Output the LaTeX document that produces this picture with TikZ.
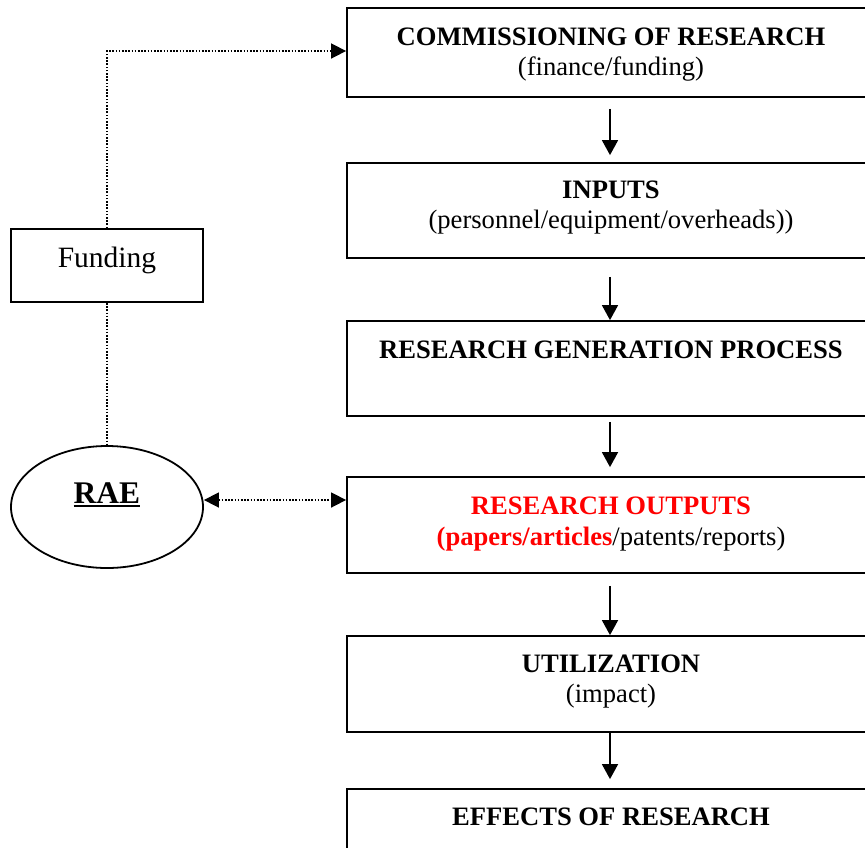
\documentclass[tikz,border=0pt]{standalone}
\usepackage{fontspec}
\setmainfont{Liberation Serif}
\usetikzlibrary{shapes.geometric,arrows.meta}
\newcommand\thickul[1]{\vtop{\hbox{#1}\kern1.5pt\hrule height 2.7pt}}
\begin{document}
\begin{tikzpicture}[x=1pt,y=-1pt,
  flowbox/.style={draw,line width=1.8pt,minimum width=526pt,inner sep=0pt},
  txt/.style={anchor=base,inner sep=0pt,font=\fontsize{26.6}{30}\selectfont},
  arr/.style={line width=1.6pt,-{Triangle[length=15pt,width=16pt]}},
  dotline/.style={line width=1.6pt,dash pattern=on 1.6pt off 1.6pt}]
\useasboundingbox (0,0) rectangle (865,847);
\begin{scope}
\clip (0,0) rectangle (865,847);
\node[flowbox,minimum height=89pt] (b1) at (610,52.5) {};
\node[flowbox,minimum height=95pt] (b2) at (610,210.5) {};
\node[flowbox,minimum height=95pt] (b3) at (610,368.5) {};
\node[flowbox,minimum height=96pt] (b4) at (610,525) {};
\node[flowbox,minimum height=96pt] (b5) at (610,684) {};
\node[flowbox,minimum height=96pt] (b6) at (610,837) {};
\end{scope}
\node[txt] (t1) at (611,45) {\bfseries COMMISSIONING OF RESEARCH};
\node[txt] (s1) at (611,75) {(finance/funding)};
\node[txt] (t2) at (611,198) {\bfseries INPUTS};
\node[txt] (s2) at (611,228) {(personnel/equipment/overheads))};
\node[txt] (t3) at (611,358) {\bfseries RESEARCH GENERATION PROCESS};
\node[txt,text=red] (t4) at (611,514) {\bfseries RESEARCH OUTPUTS};
\node[txt] (s4) at (611,545) {\textcolor{red}{\bfseries(papers/articles}/patents/reports)};
\node[txt] (t5) at (611,672) {\bfseries UTILIZATION};
\node[txt] (s5) at (611,702) {(impact)};
\node[txt] (t6) at (611,825) {\bfseries EFFECTS OF RESEARCH};
% left side
\node[draw,line width=1.8pt,minimum width=192pt,minimum height=73pt,inner sep=0pt] (fund) at (107,265.5) {};
\node[txt,font=\fontsize{29.5}{32}\selectfont] (fundt) at (107,267) {Funding};
\node[draw,ellipse,line width=1.8pt,minimum width=192pt,minimum height=122pt,inner sep=0pt] (rae) at (107,507) {};
\node[txt,font=\fontsize{31.5}{34}\selectfont\bfseries] (raet) at (107,503) {\thickul{RAE}};
% connectors
\draw[arr,shorten <=11pt,shorten >=7pt] (b1.south) -- (b2.north);
\draw[arr,shorten <=18pt] (b2.south) -- (b3.north);
\draw[arr,shorten <=5pt,shorten >=9pt] (b3.south) -- (b4.north);
\draw[arr,shorten <=12pt] (b4.south) -- (b5.north);
\draw[arr,shorten >=9pt] (b5.south) -- (b6.north);
\draw[dotline,-{Triangle[length=15pt,width=15pt]}] (fund.north) |- ([yshift=1.5pt]b1.west);
\draw[dotline] (fund.south) -- (rae.north);
\draw[dotline,{Triangle[length=15pt,width=15pt]}-{Triangle[length=15pt,width=15pt]}] ([yshift=7pt]rae.east) -- ([yshift=7pt]rae.east -| b4.west);
\end{tikzpicture}
\end{document}
